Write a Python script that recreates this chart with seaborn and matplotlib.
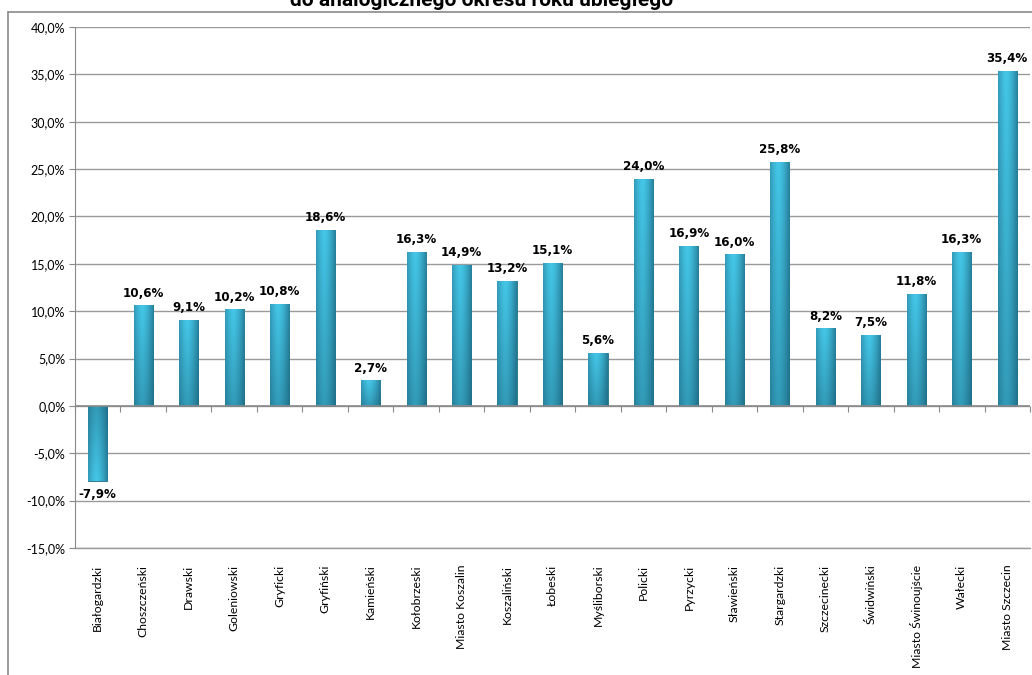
import numpy as np
import pandas as pd
import matplotlib
matplotlib.use("Agg")
import matplotlib.pyplot as plt
import seaborn as sns
from matplotlib.ticker import FuncFormatter, MultipleLocator

powiaty = ['Białogardzki', 'Choszczeński', 'Drawski', 'Goleniowski', 'Gryficki',
           'Gryfiński', 'Kamieński', 'Kołobrzeski', 'Miasto Koszalin', 'Koszaliński',
           'Łobeski', 'Myśliborski', 'Policki', 'Pyrzycki', 'Sławieński',
           'Stargardzki', 'Szczecinecki', 'Świdwiński', 'Miasto Świnoujście',
           'Wałecki', 'Miasto Szczecin']
zmiana = [-7.9, 10.6, 9.1, 10.2, 10.8, 18.6, 2.7, 16.3, 14.9, 13.2, 15.1, 5.6,
          24.0, 16.9, 16.0, 25.8, 8.2, 7.5, 11.8, 16.3, 35.4]

df = pd.DataFrame({'powiat': powiaty, 'zmiana': zmiana})

sns.set_style('white')
plt.rcParams['font.family'] = ['Lato', 'DejaVu Sans']
plt.rcParams['text.color'] = 'black'
plt.rcParams['xtick.color'] = 'black'
plt.rcParams['ytick.color'] = 'black'
title_font = ['Roboto', 'DejaVu Sans']

fig = plt.figure(figsize=(10.32, 6.75), dpi=100)
ax = fig.add_axes([75 / 1032, 1 - 548 / 675, 955 / 1032, 521 / 675])

sns.barplot(data=df, x='powiat', y='zmiana', color='#2E9CBB', width=0.42,
            saturation=1, ax=ax, zorder=3)

ax.set_xlim(-0.5, len(powiaty) - 0.5)
ax.set_ylim(-15, 40)
ax.yaxis.set_major_locator(MultipleLocator(5))
ax.yaxis.set_major_formatter(FuncFormatter(lambda v, p: f'{v:.1f}%'.replace('.', ',')))
ax.grid(axis='y', color='#9a9a9a', linewidth=1, zorder=0)
ax.axhline(-15, color='#9a9a9a', linewidth=1, zorder=0, clip_on=False)
ax.set_xlabel('')
ax.set_ylabel('')

for side in ['top', 'right']:
    ax.spines[side].set_visible(False)
ax.spines['bottom'].set_visible(False)
ax.spines['left'].set_color('#8a8a8a')
ax.tick_params(axis='y', length=4, color='#8a8a8a', labelsize=9, pad=3, left=True)
ax.tick_params(axis='x', length=0, labelsize=8.8, pad=12)
plt.setp(ax.get_xticklabels(), rotation=90)

# gradient shading on bars
yy = np.linspace(0, 1, 64)[:, None]
xx = np.linspace(0, 1, 64)[None, :]
horiz = 1 - 0.55 * np.abs(xx - 0.42) ** 1.5 * 2.6
vert = 0.62 + 0.38 * yy
shade = np.clip(horiz * vert, 0, 1)
light = np.array([0.27, 0.78, 0.91])
dark = np.array([0.08, 0.33, 0.42])
img = dark + (light - dark) * shade[..., None]
for bar in ax.patches:
    x0, y0 = bar.get_x(), bar.get_y()
    w, h = bar.get_width(), bar.get_height()
    lo, hi = min(y0, y0 + h), max(y0, y0 + h)
    if h < 0:
        im_data = img[::-1]
    else:
        im_data = img
    im = ax.imshow(im_data, extent=[x0, x0 + w, lo, hi], origin='lower',
                   aspect='auto', zorder=4, interpolation='bilinear')
    im.set_clip_path(bar)
    bar.set_edgecolor('#1f6f86')
    bar.set_linewidth(0.6)

ax.axhline(0, color='#8a8a8a', linewidth=1.2, zorder=5)
sec = ax.secondary_xaxis(15 / 55)
sec.set_xticks(np.arange(len(powiaty) + 1) - 0.5)
sec.set_xticklabels([])
sec.tick_params(length=4, color='#8a8a8a', direction='out')
sec.spines['bottom'].set_visible(False)

for i, v in enumerate(zmiana):
    lab = f'{v:.1f}%'.replace('.', ',')
    if v >= 0:
        ax.text(i, v + 0.6, lab, ha='center', va='bottom', fontsize=8.6,
                fontweight='bold', zorder=6, family=['DejaVu Sans'])
    else:
        ax.text(i, v - 0.8, lab, ha='center', va='top', fontsize=8.6,
                fontweight='bold', zorder=6, family=['DejaVu Sans'])

ax.set_xlim(-0.5, len(powiaty) - 0.5)

# outer chart frame
fig.add_artist(plt.Line2D([8 / 1032, 1], [1 - 12 / 675, 1 - 12 / 675],
                          color='#8a8a8a', linewidth=1.2, transform=fig.transFigure))
fig.add_artist(plt.Line2D([8 / 1032, 8 / 1032], [0, 1 - 12 / 675],
                          color='#8a8a8a', linewidth=1.2, transform=fig.transFigure))

fig.text(482 / 1032, 1 - 6 / 675, 'do analogicznego okresu roku ubiegłego',
         ha='center', va='baseline', fontsize=15, fontweight='bold',
         family=title_font)

fig.savefig('out.png', dpi=100)
